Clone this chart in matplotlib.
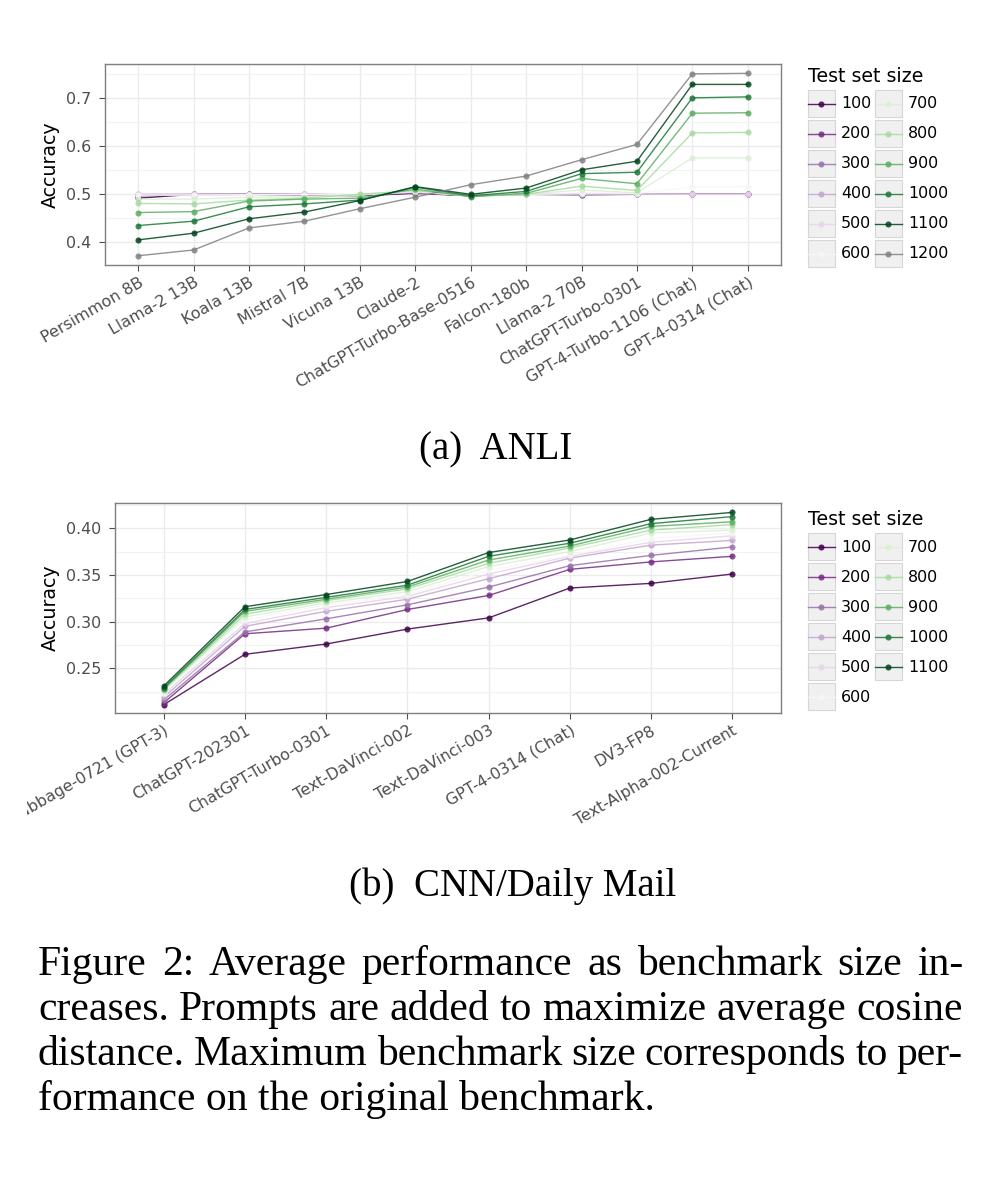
import numpy as np
import matplotlib
matplotlib.use('Agg')
import matplotlib.pyplot as plt
from matplotlib.patches import Rectangle
from matplotlib.lines import Line2D
from matplotlib.transforms import Bbox

# ---- data ----
sizes_a = ['100', '200', '300', '400', '500', '600', '700', '800', '900', '1000', '1100', '1200']
models_a = ['Persimmon 8B', 'Llama-2 13B', 'Koala 13B', 'Mistral 7B', 'Vicuna 13B', 'Claude-2',
            'ChatGPT-Turbo-Base-0516', 'Falcon-180b', 'Llama-2 70B', 'ChatGPT-Turbo-0301',
            'GPT-4-Turbo-1106 (Chat)', 'GPT-4-0314 (Chat)']
anli_100 = [0.492, 0.500, 0.500, 0.499, 0.497, 0.502, 0.497, 0.500, 0.499, 0.500, 0.500, 0.500]
anli_200 = [0.497, 0.499, 0.500, 0.499, 0.498, 0.503, 0.497, 0.500, 0.500, 0.500, 0.500, 0.500]
anli_300 = [0.499, 0.500, 0.500, 0.500, 0.498, 0.504, 0.497, 0.500, 0.500, 0.500, 0.500, 0.500]
anli_400 = [0.500, 0.500, 0.500, 0.500, 0.499, 0.504, 0.497, 0.500, 0.500, 0.500, 0.500, 0.500]
anli_500 = [0.500, 0.500, 0.500, 0.500, 0.499, 0.505, 0.497, 0.500, 0.501, 0.501, 0.500, 0.500]
anli_600 = [0.498, 0.498, 0.499, 0.499, 0.499, 0.506, 0.497, 0.500, 0.503, 0.502, 0.515, 0.516]
anli_700 = [0.490, 0.490, 0.494, 0.495, 0.499, 0.507, 0.497, 0.500, 0.509, 0.503, 0.576, 0.576]
anli_800 = [0.481, 0.480, 0.488, 0.492, 0.500, 0.508, 0.496, 0.500, 0.517, 0.508, 0.628, 0.629]
anli_900 = [0.462, 0.464, 0.486, 0.490, 0.492, 0.511, 0.495, 0.502, 0.533, 0.522, 0.669, 0.670]
anli_1000 = [0.435, 0.444, 0.474, 0.480, 0.488, 0.515, 0.497, 0.506, 0.543, 0.546, 0.701, 0.703]
anli_1100 = [0.405, 0.419, 0.449, 0.463, 0.487, 0.516, 0.500, 0.513, 0.551, 0.569, 0.729, 0.729]
anli_1200 = [0.372, 0.384, 0.430, 0.444, 0.470, 0.494, 0.520, 0.538, 0.572, 0.604, 0.751, 0.752]
anli = [anli_100, anli_200, anli_300, anli_400, anli_500, anli_600,
        anli_700, anli_800, anli_900, anli_1000, anli_1100, anli_1200]

sizes_b = sizes_a[:11]
models_b = ['Babbage-0721 (GPT-3)', 'ChatGPT-202301', 'ChatGPT-Turbo-0301', 'Text-DaVinci-002',
            'Text-DaVinci-003', 'GPT-4-0314 (Chat)', 'DV3-FP8', 'Text-Alpha-002-Current']
cnn_100 = [0.211, 0.265, 0.276, 0.292, 0.304, 0.336, 0.341, 0.351]
cnn_200 = [0.213, 0.287, 0.293, 0.313, 0.328, 0.356, 0.364, 0.370]
cnn_300 = [0.216, 0.289, 0.303, 0.318, 0.337, 0.360, 0.371, 0.380]
cnn_400 = [0.219, 0.295, 0.311, 0.324, 0.346, 0.368, 0.382, 0.387]
cnn_500 = [0.222, 0.298, 0.315, 0.327, 0.351, 0.370, 0.385, 0.392]
cnn_600 = [0.224, 0.302, 0.318, 0.329, 0.355, 0.371, 0.389, 0.395]
cnn_700 = [0.226, 0.305, 0.320, 0.332, 0.359, 0.375, 0.395, 0.398]
cnn_800 = [0.227, 0.308, 0.3225, 0.335, 0.3625, 0.379, 0.398, 0.404]
cnn_900 = [0.228, 0.311, 0.324, 0.337, 0.366, 0.381, 0.402, 0.407]
cnn_1000 = [0.229, 0.313, 0.326, 0.339, 0.370, 0.384, 0.405, 0.4125]
cnn_1100 = [0.231, 0.316, 0.329, 0.343, 0.374, 0.3875, 0.4096, 0.417]
cnn = [cnn_100, cnn_200, cnn_300, cnn_400, cnn_500, cnn_600,
       cnn_700, cnn_800, cnn_900, cnn_1000, cnn_1100]

# PRGn brewer palette, 12th level falls back to grey
palette = ['#40004b', '#762a83', '#9970ab', '#c2a5cf', '#e7d4e8', '#f7f7f7',
           '#d9f0d3', '#a6dba0', '#5aae61', '#1b7837', '#00441b', '#808080']
ALPHA = 0.85

caption_lines = ['Figure 2: Average performance as benchmark size in-',
                 'creases. Prompts are added to maximize average cosine',
                 'distance. Maximum benchmark size corresponds to per-',
                 'formance on the original benchmark.']

W, H = 998, 1178
fig = plt.figure(figsize=(W / 100, H / 100), dpi=100)
plt.rcParams['font.family'] = 'DejaVu Sans'
TICK_FS = 11.4


def px_axes(left, top, right, bottom):
    return fig.add_axes([left / W, 1 - bottom / H, (right - left) / W, (bottom - top) / H])


def style_panel(ax, labels, yticks, ylim, fmt):
    n = len(labels)
    ax.set_xlim(-0.6, n - 1 + 0.6)
    ax.set_ylim(*ylim)
    ax.set_xticks(range(n))
    ax.set_xticklabels(labels, rotation=30, ha='right', va='top', rotation_mode='anchor',
                       fontsize=TICK_FS, color='#4d4d4d')
    ax.set_yticks(yticks)
    ax.set_yticklabels([fmt % t for t in yticks], fontsize=TICK_FS, color='#4d4d4d')
    minors = [(a + b) / 2 for a, b in zip(yticks[:-1], yticks[1:])]
    step = yticks[1] - yticks[0]
    minors = [yticks[0] - step / 2] + minors + [yticks[-1] + step / 2]
    ax.set_yticks([m for m in minors if ylim[0] < m < ylim[1]], minor=True)
    ax.tick_params(axis='y', which='minor', length=0)
    ax.grid(True, which='major', color='#ebebeb', lw=1.0)
    ax.grid(True, which='minor', axis='y', color='#f2f2f2', lw=0.8)
    ax.set_axisbelow(True)
    ax.tick_params(which='major', length=4, width=0.8, color='#4d4d4d', pad=3)
    ax.tick_params(axis='y', which='major', pad=6)
    for s in ax.spines.values():
        s.set_color('#7f7f7f')
        s.set_linewidth(1.0)
    ax.set_ylabel('Accuracy', fontsize=13.7, labelpad=4)


ax1 = px_axes(105, 64, 781, 265)
for i, ys in enumerate(anli):
    ax1.plot(range(len(models_a)), ys, color=palette[i], alpha=ALPHA, lw=1.0,
             marker='o', ms=4.4, mew=0)
style_panel(ax1, models_a, [0.4, 0.5, 0.6, 0.7], (0.3527, 0.7715), '%.1f')

ax2 = px_axes(115, 503, 781, 713)
for i, ys in enumerate(cnn):
    ax2.plot(range(len(models_b)), ys, color=palette[i], alpha=ALPHA, lw=1.0,
             marker='o', ms=4.4, mew=0)
style_panel(ax2, models_b, [0.25, 0.30, 0.35, 0.40], (0.2021, 0.4271), '%.2f')

# the original plot image is cut off a little left of the page margin
clip = Bbox.from_extents(27, 0, W, H)
for lbl in ax2.get_xticklabels():
    lbl.set_clip_box(clip)
    lbl.set_clip_on(True)

# overlay in pixel coordinates for legends and captions
ov = fig.add_axes([0, 0, 1, 1])
ov.set_xlim(0, W)
ov.set_ylim(H, 0)
ov.axis('off')


def draw_legend(top, labels):
    ov.text(808, top - 8, 'Test set size', fontsize=13.7, va='baseline', ha='left')
    for i, lab in enumerate(labels):
        col, row = divmod(i, 6)
        x0 = 808 + col * 67
        y0 = top + row * 30
        ov.add_patch(Rectangle((x0, y0), 27, 27, facecolor='#f0f0f0', edgecolor='#d6d6d6', lw=0.8))
        ov.add_line(Line2D([x0, x0 + 27], [y0 + 13.5, y0 + 13.5], color=palette[i], alpha=ALPHA, lw=1.0))
        ov.plot([x0 + 13.5], [y0 + 13.5], 'o', color=palette[i], alpha=ALPHA, ms=4.4, mew=0)
        ov.text(x0 + 33, y0 + 14, lab, fontsize=TICK_FS, va='center', ha='left')


draw_legend(90, sizes_a)
draw_legend(533, sizes_b)

serif = 'Liberation Serif'
ov.text(496, 459, '(a)  ANLI', fontsize=28, family=serif, ha='center', va='baseline')
ov.text(513, 896, '(b)  CNN/Daily Mail', fontsize=28, family=serif, ha='center', va='baseline')

# justified caption
renderer = fig.canvas.get_renderer()
left, right = 38, 963
CAP_FS = 30
for k, line in enumerate(caption_lines):
    base = 975 + 45 * k
    words = line.split(' ')
    if k == len(caption_lines) - 1:
        ov.text(left, base, line, fontsize=CAP_FS, family=serif, ha='left', va='baseline')
        continue
    arts = [ov.text(0, base, w, fontsize=CAP_FS, family=serif, ha='left', va='baseline') for w in words]
    widths = [a.get_window_extent(renderer).width for a in arts]
    gap = (right - left - sum(widths)) / (len(words) - 1)
    x = left
    for a, w in zip(arts, widths):
        a.set_x(x)
        x += w + gap

fig.savefig('out.png', dpi=100)
